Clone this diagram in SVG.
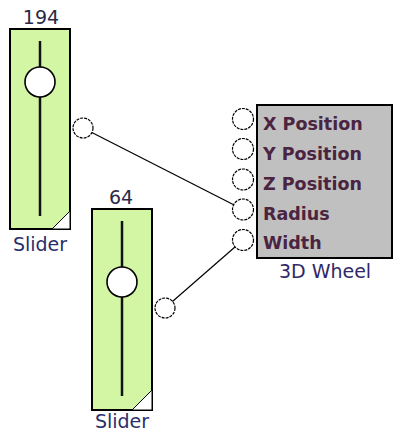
<svg xmlns="http://www.w3.org/2000/svg" width="394" height="432" viewBox="0 0 394 432">
<style>
.body{fill:#d2f6a4;stroke:#000;stroke-width:2}
.track{stroke:#111;stroke-width:2.5}
.knob{fill:#fff;stroke:#000;stroke-width:1.6}
.corner{fill:#fff;stroke:#000;stroke-width:1}
.port{fill:#fff;stroke:#000;stroke-width:1.2;stroke-dasharray:3 1}
.lbl{font-family:"DejaVu Sans",Verdana,sans-serif;font-size:19px;fill:#28306a;text-anchor:middle}
.val{font-family:"DejaVu Sans",Verdana,sans-serif;font-size:19px;fill:#2a2a48;text-anchor:middle}
.plbl{font-family:"DejaVu Sans",Verdana,sans-serif;font-size:17.5px;font-weight:bold;fill:#4a2440}
.wire{stroke:#000;stroke-width:1.2;fill:none}
</style>
<g id="connectors">
<line class="wire" x1="83" y1="128" x2="243" y2="209.5"/>
<line class="wire" x1="165" y1="308" x2="243" y2="240"/>
</g>
<g id="slider1">
<text class="val" x="41" y="24">194</text>
<rect class="body" x="10" y="29" width="60" height="200"/>
<line class="track" x1="40" y1="41" x2="40" y2="216"/>
<circle class="knob" cx="40" cy="82" r="15"/>
<polygon class="corner" points="52,229 70,211 70,229"/>
<circle class="port" cx="83" cy="128" r="10"/>
<text class="lbl" x="40" y="251">Slider</text>
</g>
<g id="slider2">
<text class="val" x="121" y="204">64</text>
<rect class="body" x="92" y="209" width="60" height="201"/>
<line class="track" x1="122" y1="221" x2="122" y2="396"/>
<circle class="knob" cx="122" cy="282" r="15"/>
<polygon class="corner" points="132,410 152,390 152,410"/>
<circle class="port" cx="165" cy="308" r="10"/>
<text class="lbl" x="122" y="428">Slider</text>
</g>
<g id="wheel3d">
<rect x="257" y="105" width="135" height="153" fill="#c0c0c0" stroke="#000" stroke-width="2"/>
<circle class="port" cx="243" cy="119" r="10.5"/>
<circle class="port" cx="243" cy="149" r="10.5"/>
<circle class="port" cx="243" cy="179.5" r="10.5"/>
<circle class="port" cx="243" cy="209.5" r="10.5"/>
<circle class="port" cx="243" cy="240" r="10.5"/>
<text class="plbl" x="263" y="130">X Position</text>
<text class="plbl" x="263" y="160">Y Position</text>
<text class="plbl" x="263" y="190">Z Position</text>
<text class="plbl" x="263" y="220">Radius</text>
<text class="plbl" x="263" y="249">Width</text>
<text class="lbl" x="325" y="278" style="fill:#302868">3D Wheel</text>
</g>
</svg>
